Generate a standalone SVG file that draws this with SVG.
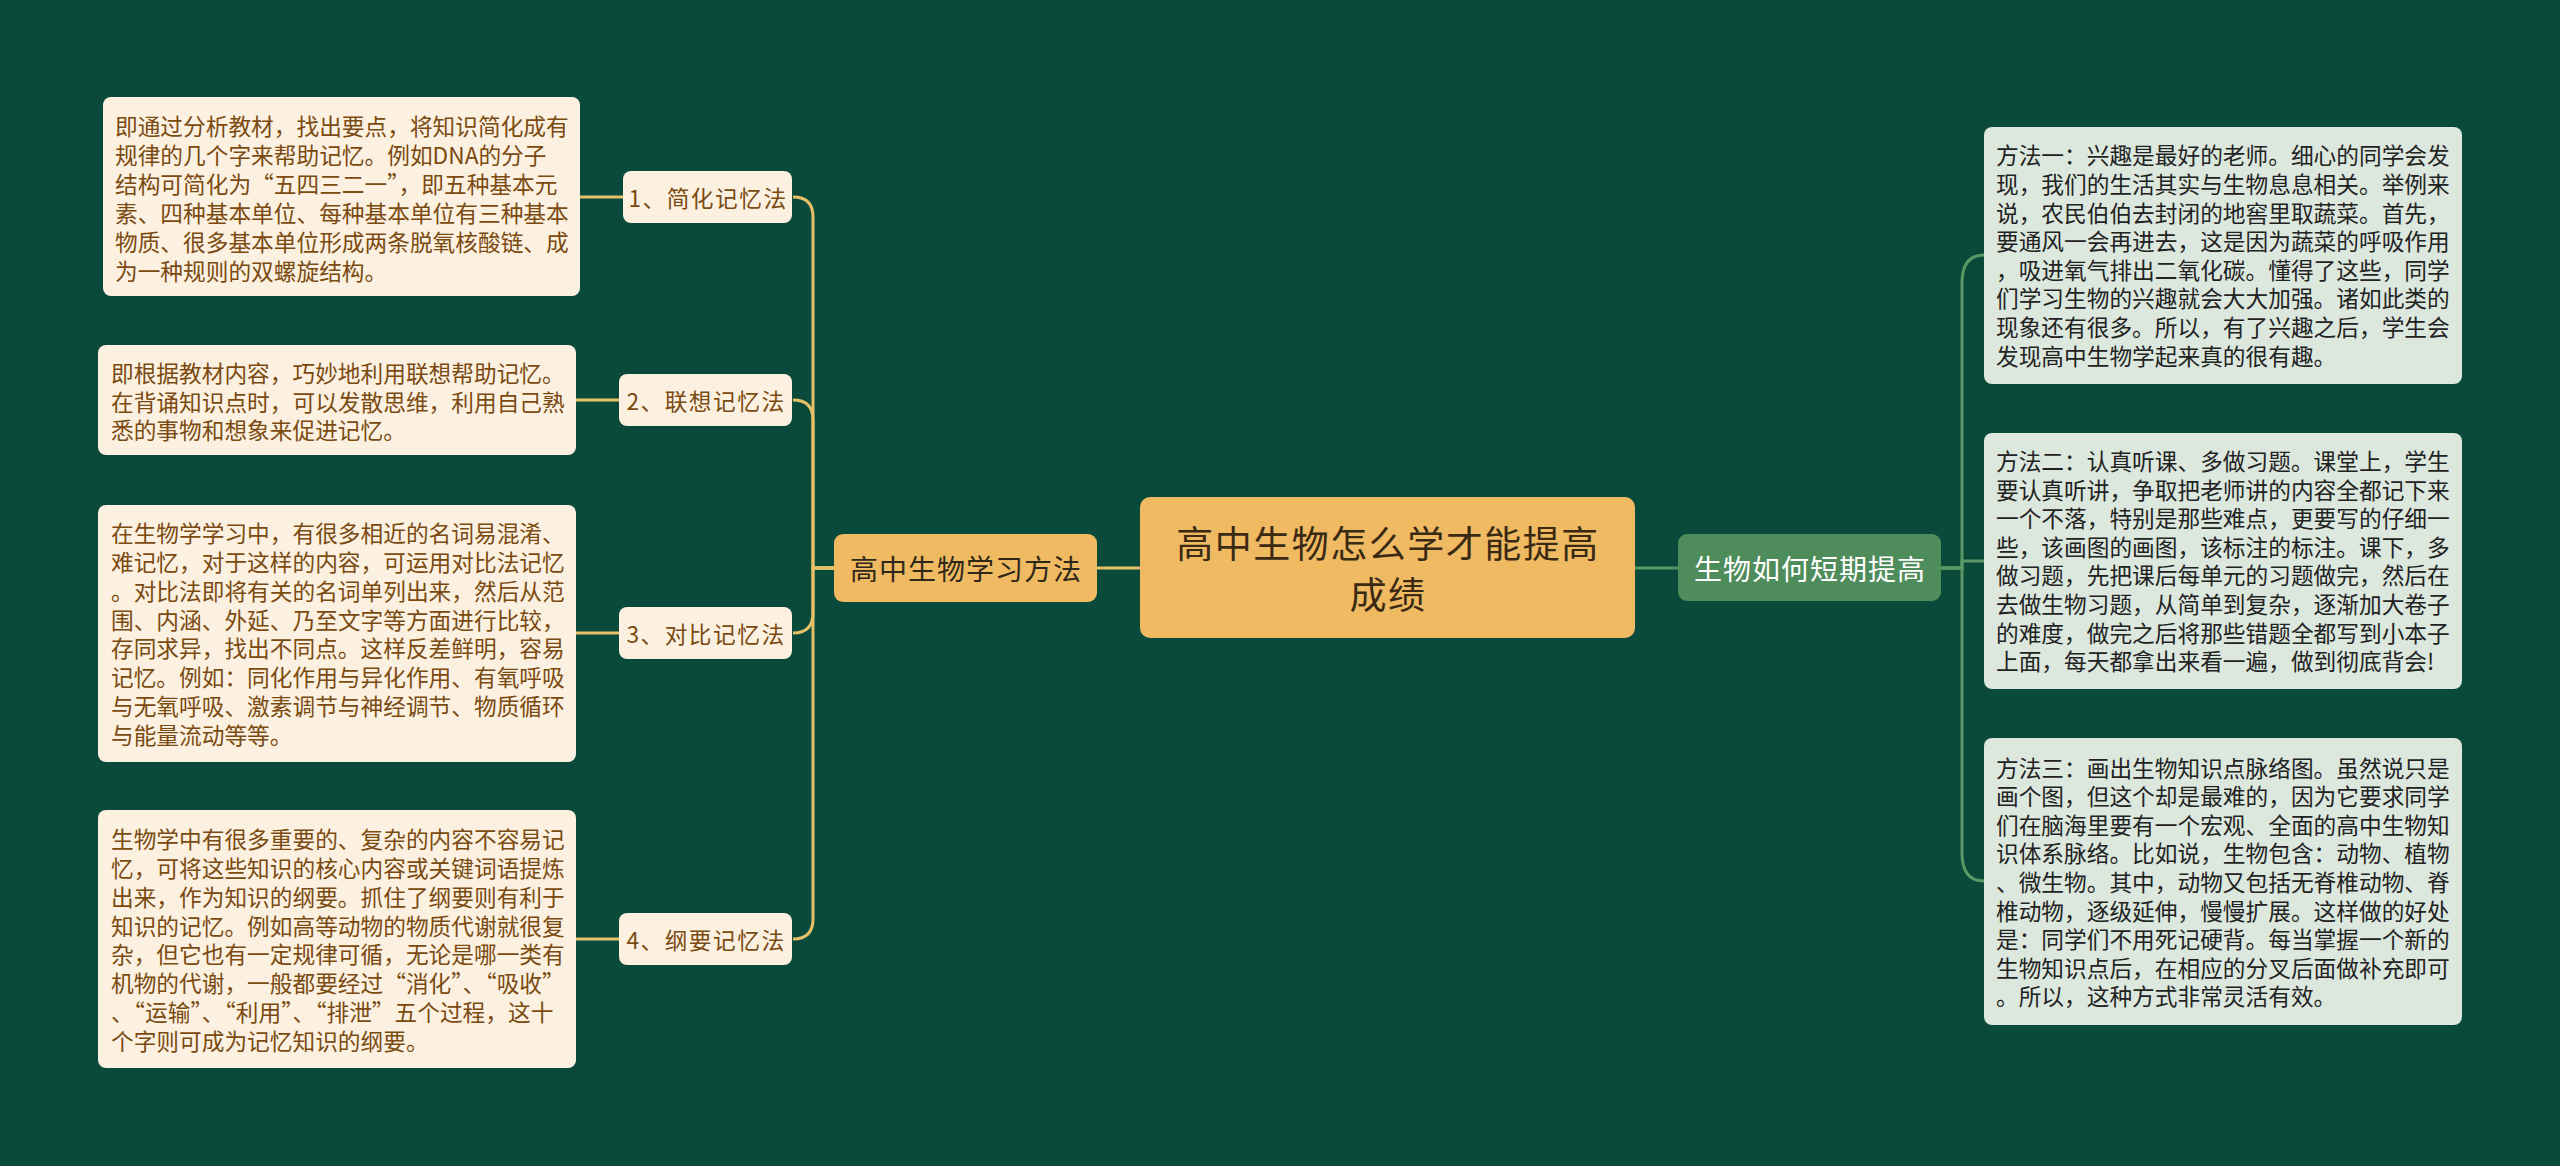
<svg xmlns="http://www.w3.org/2000/svg" width="2560" height="1166" viewBox="0 0 2560 1166">
<style>
text{font-family:"Noto Sans CJK SC","Noto Sans",sans-serif;dominant-baseline:central}
.bg{fill:#0a4a3a}
.root{fill:#f0ba62}
.roott{font-size:37px;fill:#3a2a14;text-anchor:middle;letter-spacing:1.5px}
.sub{fill:#f0ba62}
.subt{font-size:28px;fill:#2e2818;text-anchor:middle;letter-spacing:1px}
.gsub{fill:#4f8c5b}
.gsubt{font-size:28px;fill:#ffffff;text-anchor:middle;letter-spacing:1px}
.lab{fill:#fcf1e1}
.labt{font-size:22.7px;fill:#7a4a10;text-anchor:middle;letter-spacing:1.5px}
.lbox{fill:#fcf1e1}
.lt{font-size:22.7px;fill:#7a4a10}
.rbox{fill:#dce8de}
.rt{font-size:22.7px;fill:#222222}
.gold{fill:none;stroke:#e6c16a;stroke-width:3}
.green{fill:none;stroke:#5a9865;stroke-width:3}
</style>
<rect class="bg" x="0" y="0" width="2560" height="1166"/>
<g id="connectors">
<path class="gold" d="M1140,568 H1097"/>
<path class="gold" d="M834,568 H813 V217 Q813,197 793,197"/>
<path class="gold" d="M834,568 H813 V420 Q813,400 793,400"/>
<path class="gold" d="M834,568 H813 V613 Q813,633 793,633"/>
<path class="gold" d="M834,568 H813 V919 Q813,939 793,939"/>
<path class="gold" d="M623,197 H580"/>
<path class="gold" d="M619,400 H576"/>
<path class="gold" d="M619,633 H576"/>
<path class="gold" d="M619,939 H576"/>
<path class="green" d="M1635,568 H1678"/>
<path class="green" d="M1941,568 H1962 V283 Q1962,255 1984,255"/>
<path class="green" d="M1941,568 H1962 V561 H1984"/>
<path class="green" d="M1941,568 H1962 V853 Q1962,881 1984,881"/>
</g>
<g id="root">
<rect class="root" x="1140" y="497" width="495" height="141" rx="10"/>
<text class="roott" x="1388" y="542">高中生物怎么学才能提高</text>
<text class="roott" x="1388" y="593">成绩</text>
</g>
<g id="sub-left">
<rect class="sub" x="834" y="534" width="263" height="68" rx="9"/>
<text class="subt" x="966" y="568">高中生物学习方法</text>
</g>
<g id="sub-right">
<rect class="gsub" x="1678" y="534" width="263" height="67" rx="9"/>
<text class="gsubt" x="1810" y="567.5">生物如何短期提高</text>
</g>
<g id="label1">
<rect class="lab" x="623" y="171" width="169" height="52" rx="8"/>
<text class="labt" x="708" y="197">1、简化记忆法</text>
</g>
<g id="label2">
<rect class="lab" x="619" y="374" width="173" height="52" rx="8"/>
<text class="labt" x="706" y="400">2、联想记忆法</text>
</g>
<g id="label3">
<rect class="lab" x="619" y="607" width="173" height="52" rx="8"/>
<text class="labt" x="706" y="633">3、对比记忆法</text>
</g>
<g id="label4">
<rect class="lab" x="619" y="913" width="173" height="52" rx="8"/>
<text class="labt" x="706" y="939">4、纲要记忆法</text>
</g>
<g id="box1">
<rect class="lbox" x="103" y="97" width="477" height="199" rx="8"/>
<text class="lt"><tspan x="115" y="124.5">即通过分析教材，找出要点，将知识简化成有</tspan><tspan x="115" y="153.5">规律的几个字来帮助记忆。例如DNA的分子</tspan><tspan x="115" y="182.5">结构可简化为“五四三二一”，即五种基本元</tspan><tspan x="115" y="211.5">素、四种基本单位、每种基本单位有三种基本</tspan><tspan x="115" y="240.5">物质、很多基本单位形成两条脱氧核酸链、成</tspan><tspan x="115" y="269.5">为一种规则的双螺旋结构。</tspan></text>
</g>
<g id="box2">
<rect class="lbox" x="98" y="345" width="478" height="110" rx="8"/>
<text class="lt"><tspan x="111" y="372">即根据教材内容，巧妙地利用联想帮助记忆。</tspan><tspan x="111" y="400.5">在背诵知识点时，可以发散思维，利用自己熟</tspan><tspan x="111" y="429">悉的事物和想象来促进记忆。</tspan></text>
</g>
<g id="box3">
<rect class="lbox" x="98" y="505" width="478" height="257" rx="8"/>
<text class="lt"><tspan x="111" y="532.2">在生物学学习中，有很多相近的名词易混淆、</tspan><tspan x="111" y="561">难记忆，对于这样的内容，可运用对比法记忆</tspan><tspan x="111" y="589.8">。对比法即将有关的名词单列出来，然后从范</tspan><tspan x="111" y="618.6">围、内涵、外延、乃至文字等方面进行比较，</tspan><tspan x="111" y="647.4">存同求异，找出不同点。这样反差鲜明，容易</tspan><tspan x="111" y="676.2">记忆。例如：同化作用与异化作用、有氧呼吸</tspan><tspan x="111" y="705">与无氧呼吸、激素调节与神经调节、物质循环</tspan><tspan x="111" y="733.8">与能量流动等等。</tspan></text>
</g>
<g id="box4">
<rect class="lbox" x="98" y="810" width="478" height="258" rx="8"/>
<text class="lt"><tspan x="111" y="838.2">生物学中有很多重要的、复杂的内容不容易记</tspan><tspan x="111" y="867">忆，可将这些知识的核心内容或关键词语提炼</tspan><tspan x="111" y="895.8">出来，作为知识的纲要。抓住了纲要则有利于</tspan><tspan x="111" y="924.6">知识的记忆。例如高等动物的物质代谢就很复</tspan><tspan x="111" y="953.4">杂，但它也有一定规律可循，无论是哪一类有</tspan><tspan x="111" y="982.2">机物的代谢，一般都要经过“消化”、“吸收”</tspan><tspan x="111" y="1011">、“运输”、“利用”、“排泄”五个过程，这十</tspan><tspan x="111" y="1039.8">个字则可成为记忆知识的纲要。</tspan></text>
</g>
<g id="rbox1">
<rect class="rbox" x="1984" y="127" width="478" height="257" rx="8"/>
<text class="rt"><tspan x="1996" y="154.4">方法一：兴趣是最好的老师。细心的同学会发</tspan><tspan x="1996" y="183">现，我们的生活其实与生物息息相关。举例来</tspan><tspan x="1996" y="211.6">说，农民伯伯去封闭的地窖里取蔬菜。首先，</tspan><tspan x="1996" y="240.2">要通风一会再进去，这是因为蔬菜的呼吸作用</tspan><tspan x="1996" y="268.8">，吸进氧气排出二氧化碳。懂得了这些，同学</tspan><tspan x="1996" y="297.4">们学习生物的兴趣就会大大加强。诸如此类的</tspan><tspan x="1996" y="326">现象还有很多。所以，有了兴趣之后，学生会</tspan><tspan x="1996" y="354.6">发现高中生物学起来真的很有趣。</tspan></text>
</g>
<g id="rbox2">
<rect class="rbox" x="1984" y="433" width="478" height="256" rx="8"/>
<text class="rt"><tspan x="1996" y="459.9">方法二：认真听课、多做习题。课堂上，学生</tspan><tspan x="1996" y="488.5">要认真听讲，争取把老师讲的内容全都记下来</tspan><tspan x="1996" y="517.1">一个不落，特别是那些难点，更要写的仔细一</tspan><tspan x="1996" y="545.7">些，该画图的画图，该标注的标注。课下，多</tspan><tspan x="1996" y="574.3">做习题，先把课后每单元的习题做完，然后在</tspan><tspan x="1996" y="602.9">去做生物习题，从简单到复杂，逐渐加大卷子</tspan><tspan x="1996" y="631.5">的难度，做完之后将那些错题全都写到小本子</tspan><tspan x="1996" y="660.1">上面，每天都拿出来看一遍，做到彻底背会!</tspan></text>
</g>
<g id="rbox3">
<rect class="rbox" x="1984" y="738" width="478" height="287" rx="8"/>
<text class="rt"><tspan x="1996" y="766.6">方法三：画出生物知识点脉络图。虽然说只是</tspan><tspan x="1996" y="795.2">画个图，但这个却是最难的，因为它要求同学</tspan><tspan x="1996" y="823.8">们在脑海里要有一个宏观、全面的高中生物知</tspan><tspan x="1996" y="852.4">识体系脉络。比如说，生物包含：动物、植物</tspan><tspan x="1996" y="881">、微生物。其中，动物又包括无脊椎动物、脊</tspan><tspan x="1996" y="909.6">椎动物，逐级延伸，慢慢扩展。这样做的好处</tspan><tspan x="1996" y="938.2">是：同学们不用死记硬背。每当掌握一个新的</tspan><tspan x="1996" y="966.8">生物知识点后，在相应的分叉后面做补充即可</tspan><tspan x="1996" y="995.4">。所以，这种方式非常灵活有效。</tspan></text>
</g>
</svg>
